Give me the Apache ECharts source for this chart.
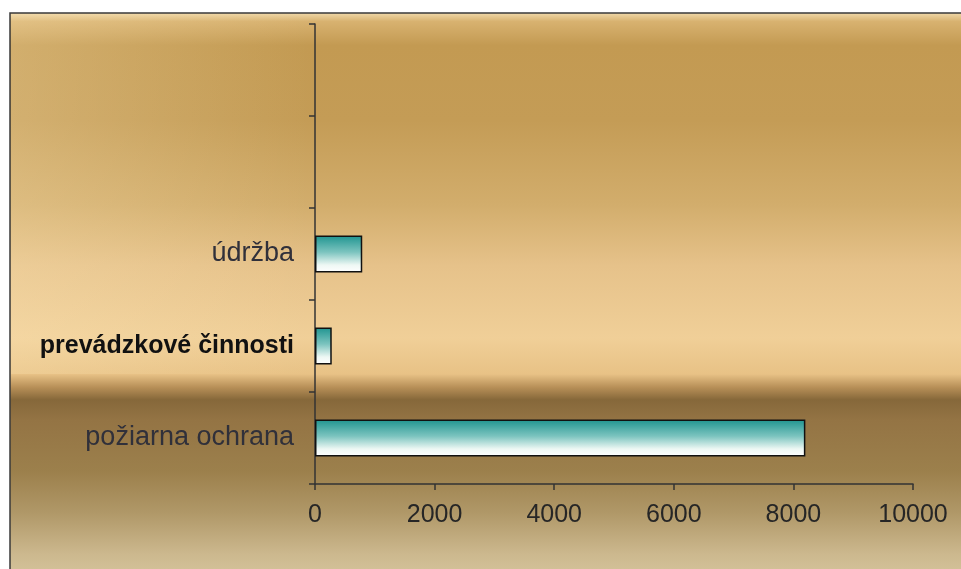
<!DOCTYPE html>
<html><head><meta charset="utf-8">
<script src="https://cdn.jsdelivr.net/npm/echarts@6/dist/echarts.min.js"></script>
<style>html,body{margin:0;padding:0;background:#fff}#c{width:961px;height:569px}</style>
</head><body><div id="c"></div>
<script>
const categories = ['požiarna ochrana', 'prevádzkové činnosti', 'údržba', ' ', '  '];
const values = [8200, 280, 790, null, null];
const xTicks = [0, 2000, 4000, 6000, 8000, 10000];

const chart = echarts.init(document.getElementById('c'));
const bg = new echarts.graphic.LinearGradient(0, 0, 0, 1, [
  {offset: 0, color: '#f2dcae'},
  {offset: 0.016, color: '#d8b270'},
  {offset: 0.058, color: '#c39a52'},
  {offset: 0.19, color: '#c49c56'},
  {offset: 0.336, color: '#d2ad6c'},
  {offset: 0.444, color: '#e6c28a'},
  {offset: 0.57, color: '#f0cf98'},
  {offset: 0.633, color: '#e8c286'},
  {offset: 0.656, color: '#b89058'},
  {offset: 0.678, color: '#86683a'},
  {offset: 0.714, color: '#947444'},
  {offset: 0.804, color: '#9c804c'},
  {offset: 0.876, color: '#b09868'},
  {offset: 0.948, color: '#ccb88e'},
  {offset: 1, color: '#d8c8a0'}
]);
chart.setOption({
  animation: false,
  backgroundColor: '#ffffff',
  graphic: [{
    type: 'rect', z: -10, silent: true,
    shape: {x: 10, y: 13, width: 960, height: 570},
    style: {fill: bg, stroke: '#3a3a3a', lineWidth: 1.5}
  }, {
    type: 'rect', z: -9, silent: true,
    shape: {x: 11, y: 14, width: 300, height: 360},
    style: {fill: new echarts.graphic.LinearGradient(0, 0, 1, 0, [
      {offset: 0, color: 'rgba(255,235,190,0.25)'},
      {offset: 1, color: 'rgba(255,235,190,0)'}
    ])}
  }],
  grid: {left: 315, right: 48, top: 24, bottom: 85},
  xAxis: {
    type: 'value', min: 0, max: 10000, interval: 2000,
    splitLine: {show: false},
    axisLine: {show: true, lineStyle: {color: '#333', width: 1.5}},
    axisTick: {show: true, length: 6, lineStyle: {color: '#333', width: 1.5}},
    axisLabel: {
      margin: 19, fontSize: 25, color: '#262626',
      fontFamily: 'Liberation Sans, Arial, sans-serif',
      formatter: v => xTicks.includes(v) ? String(v) : ''
    }
  },
  yAxis: {
    type: 'category', data: categories,
    axisLine: {show: true, lineStyle: {color: '#333', width: 1.5}},
    axisTick: {show: true, length: 6, lineStyle: {color: '#333', width: 1.5}},
    axisLabel: {
      margin: 21, fontSize: 25,
      fontFamily: 'Liberation Sans, Arial, sans-serif',
      formatter: (v, i) => i === 1 ? '{b|' + v + '}' : '{n|' + v + '}',
      rich: {
        b: {fontSize: 25, fontWeight: 'bold', color: '#111', fontFamily: 'Liberation Sans, Arial, sans-serif'},
        n: {fontSize: 27, color: '#30303a', fontFamily: 'Liberation Sans, Arial, sans-serif'}
      }
    }
  },
  series: [{
    type: 'bar', data: values, barWidth: '40%',
    itemStyle: {
      borderColor: '#111', borderWidth: 1.5,
      color: new echarts.graphic.LinearGradient(0, 0, 0, 1, [
        {offset: 0, color: '#1f9490'},
        {offset: 0.45, color: '#7cc4bf'},
        {offset: 0.8, color: '#eef8f4'},
        {offset: 1, color: '#ffffff'}
      ])
    }
  }]
});
</script></body></html>
